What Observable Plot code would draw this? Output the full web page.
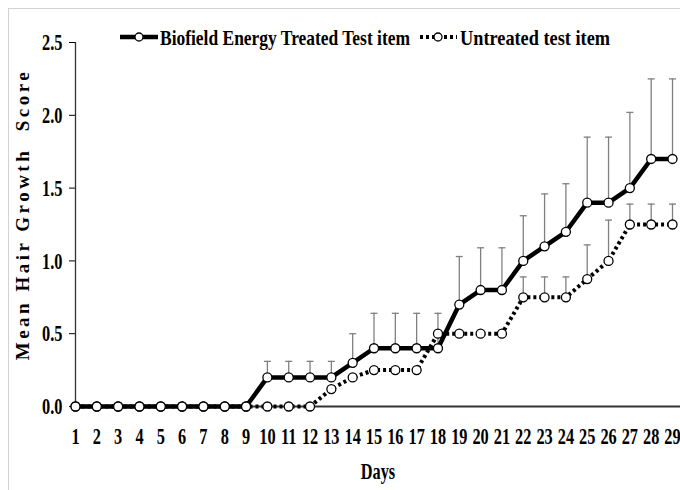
<!DOCTYPE html>
<html><head><meta charset="utf-8">
<script src="https://cdn.jsdelivr.net/npm/d3@7"></script>
<script src="https://cdn.jsdelivr.net/npm/@observablehq/plot@0.6"></script>
<style>
body{margin:0;background:#fff;}
#wrap{position:relative;width:680px;height:490px;overflow:hidden;background:#fff;}
#frame{position:absolute;left:8px;top:8px;width:700px;height:500px;border-top:1px solid #d2d2d2;border-left:1px solid #d2d2d2;}
#chart{position:absolute;left:0;top:0;}
#legend{position:absolute;left:0;top:0;}
</style></head>
<body><div id="wrap"><div id="frame"></div><div id="chart"></div><svg id="legend" width="680" height="60"></svg></div>
<script>
const days = [1,2,3,4,5,6,7,8,9,10,11,12,13,14,15,16,17,18,19,20,21,22,23,24,25,26,27,28,29];
const treated   = [0,0,0,0,0,0,0,0,0,0.2,0.2,0.2,0.2,0.3,0.4,0.4,0.4,0.4,0.7,0.8,0.8,1.0,1.1,1.2,1.4,1.4,1.5,1.7,1.7];
const treatedSD = [0,0,0,0,0,0,0,0,0,0.11,0.11,0.11,0.11,0.2,0.24,0.24,0.24,0.24,0.33,0.29,0.29,0.31,0.36,0.33,0.45,0.45,0.52,0.55,0.55];
const untreated   = [0,0,0,0,0,0,0,0,0,0,0,0,0.12,0.2,0.25,0.25,0.25,0.5,0.5,0.5,0.5,0.75,0.75,0.75,0.875,1.0,1.25,1.25,1.25];
const untreatedSD = [0,0,0,0,0,0,0,0,0,0,0,0,0,0,0,0,0,0,0,0,0,0.14,0.14,0.14,0.235,0.28,0.14,0.14,0.14];
const yTicks = [0,0.5,1.0,1.5,2.0,2.5];
const seriesNames = ["Biofield Energy Treated Test item","Untreated test item"];
const xLabel = "Days";
const yLabel = "Mean Hair Growth  Score";

const rows = [];
days.forEach((d,i)=>{
  rows.push({day:d, value:treated[i], sd:treatedSD[i], series:seriesNames[0]});
  rows.push({day:d, value:untreated[i], sd:untreatedSD[i], series:seriesNames[1]});
});
const tRows = rows.filter(r=>r.series===seriesNames[0]);
const uRows = rows.filter(r=>r.series===seriesNames[1]);
const bars = rows.filter(r=>r.sd>0);

const cap = {draw(ctx){ ctx.moveTo(-3.5,0); ctx.lineTo(3.5,0); }};
const FONT = "'Liberation Serif','Times New Roman',serif";

const chart = Plot.plot({
  width:680, height:490,
  marginLeft:75, marginRight:0, marginTop:42, marginBottom:84,
  style:{fontFamily:FONT, fontWeight:"bold", fontSize:"24px", background:"transparent", color:"#000", overflow:"visible"},
  x:{domain:[1,29.375], ticks:days, tickSize:0, tickPadding:20, tickFormat:d=>String(d), label:null},
  y:{domain:[0,2.5], ticks:yTicks, tickSize:6, tickPadding:7, tickFormat:d3.format(".1f"), label:null},
  marks:[
    Plot.ruleX(bars,{x:"day", y1:"value", y2:d=>d.value+d.sd, stroke:"#808080", strokeWidth:1.3}),
    Plot.dot(bars,{x:"day", y:d=>d.value+d.sd, symbol:cap, stroke:"#808080", strokeWidth:1.3}),
    Plot.ruleY([0],{stroke:"#333", strokeWidth:1.8}),
    Plot.ruleX([1],{y1:0, y2:2.5, stroke:"#333", strokeWidth:1.3}),
    Plot.line(uRows,{x:"day", y:"value", stroke:"#000", strokeWidth:4, strokeDasharray:"3,3", strokeLinecap:"butt"}),
    Plot.line(tRows,{x:"day", y:"value", stroke:"#000", strokeWidth:4.5}),
    Plot.dot(uRows,{x:"day", y:"value", r:4.5, fill:"#fff", stroke:"#000", strokeWidth:1.3}),
    Plot.dot(tRows,{x:"day", y:"value", r:4.5, fill:"#fff", stroke:"#000", strokeWidth:1.3}),
    Plot.text([xLabel],{frameAnchor:"bottom", dy:72, fontSize:24, fontWeight:"bold"}),
    Plot.text([yLabel],{frameAnchor:"left", textAnchor:"middle", rotate:-90, dx:-53, dy:-10, fontSize:19, fontWeight:"bold"})
  ]
});
document.getElementById("chart").appendChild(chart);

// condense the serif text horizontally like the reference
const svgSel = d3.select(chart);
svgSel.selectAll("text").each(function(){
  const t = d3.select(this);
  const txt = t.text();
  if (txt.trim() === yLabel.trim()) { t.attr("letter-spacing", "3.5px"); return; }
  const tr = t.attr("transform");
  if (tr) t.attr("transform", tr + " scale(0.68,1)");
  else {
    const x = +t.attr("x") || 0;
    t.attr("transform", `translate(${x},0) scale(0.68,1) translate(${-x},0)`);
  }
});

// legend
const lg = d3.select("#legend");
const items = [
  {name:seriesNames[0], x0:120, x1:158, cx:139, tx:160, len:250, dash:null, w:4.5},
  {name:seriesNames[1], x0:420, x1:457, cx:438, tx:460, len:150, dash:"3,3", w:4}
];
items.forEach(it=>{
  lg.append("line").attr("x1",it.x0).attr("x2",it.x1).attr("y1",37).attr("y2",37)
    .attr("stroke","#000").attr("stroke-width",it.w).attr("stroke-dasharray",it.dash);
  lg.append("circle").attr("cx",it.cx).attr("cy",37).attr("r",4)
    .attr("fill","#fff").attr("stroke","#000").attr("stroke-width",1.3);
  lg.append("text").attr("x",it.tx).attr("y",45).text(it.name)
    .attr("font-family",FONT).attr("font-weight","bold").attr("font-size",22)
    .attr("textLength",it.len).attr("lengthAdjust","spacingAndGlyphs");
});
</script></body></html>
